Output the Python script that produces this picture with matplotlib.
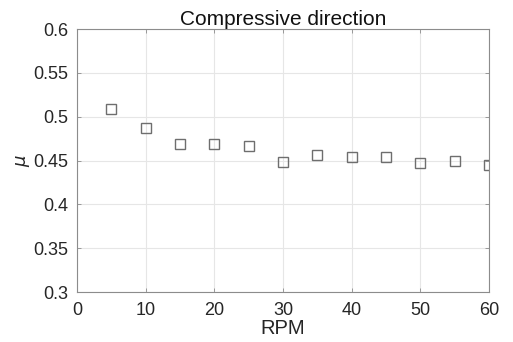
import matplotlib
matplotlib.use("Agg")
import matplotlib.pyplot as plt

rpm = [5, 10, 15, 20, 25, 30, 35, 40, 45, 50, 55, 60]
mu = [0.509, 0.487, 0.4685, 0.469, 0.467, 0.4485, 0.456, 0.454, 0.454, 0.447, 0.449, 0.445]
x_ticks = [0, 10, 20, 30, 40, 50, 60]
y_ticks = [0.3, 0.35, 0.4, 0.45, 0.5, 0.55, 0.6]
y_tick_labels = ["0.3", "0.35", "0.4", "0.45", "0.5", "0.55", "0.6"]

plt.rcParams["font.family"] = ["Liberation Sans", "DejaVu Sans"]

fig = plt.figure(figsize=(5.13, 3.42), dpi=100)
ax = fig.add_axes([0.150, 0.146, 0.803, 0.769])

ax.plot(rpm, mu, linestyle="none", marker="s", markersize=7,
        markerfacecolor="none", markeredgecolor="#6e6e6e", markeredgewidth=1.0)

ax.set_xlim(0, 60)
ax.set_ylim(0.3, 0.6)
ax.set_xticks(x_ticks)
ax.set_yticks(y_ticks)
ax.set_yticklabels(y_tick_labels)

ax.grid(True, color="#e6e6e6", linewidth=0.8)
ax.set_axisbelow(True)
for s in ax.spines.values():
    s.set_color("#8c8c8c")
    s.set_linewidth(0.8)
ax.tick_params(direction="in", length=3, width=0.6, color="#8c8c8c",
               labelsize=13, labelcolor="#262626", top=True, right=True)
ax.tick_params(axis="x", pad=7.5)
ax.tick_params(axis="y", pad=6)

ax.set_title("Compressive direction", fontsize=15, color="#111111", pad=3)
ax.set_xlabel("RPM", fontsize=14.5, color="#262626", labelpad=0)
ax.set_ylabel(r"$\mu$", fontsize=13, color="#262626", labelpad=1)

fig.savefig("out.png", dpi=100)
